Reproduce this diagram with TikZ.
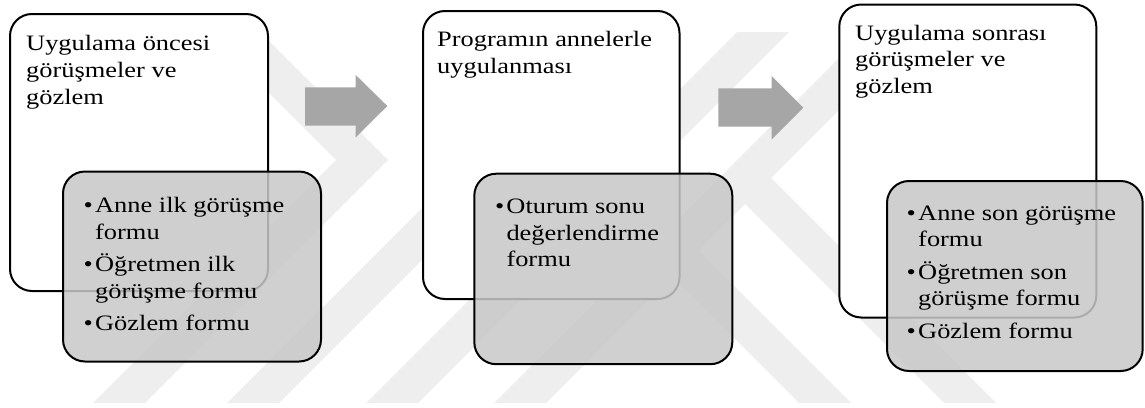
\documentclass[tikz,border=0pt]{standalone}
\usepackage{fontspec}
\setmainfont{Liberation Serif}[FakeStretch=1.2]
\definecolor{innergray}{RGB}{200,200,200}
\definecolor{arrowgray}{RGB}{166,166,166}
\definecolor{watermark}{RGB}{238,238,238}
\newcommand{\bul}{\makebox[11.5pt][l]{•}}
\begin{document}
\begin{tikzpicture}[x=1pt,y=-1pt,
  wband/.style={fill=watermark,draw=none},
  outerbox/.style={draw=black,line width=2pt,fill=white,rounded corners=22pt,anchor=north west,inner sep=0pt},
  innerbox/.style={draw=black,line width=2pt,fill=innergray,fill opacity=0.86,draw opacity=1,rounded corners=22pt,anchor=north west,inner sep=0pt},
  blockarrow/.style={fill=arrowgray,draw=none},
  txt/.style={inner sep=0pt,anchor=base west,font=\fontsize{22pt}{26.8pt}\selectfont}]
\useasboundingbox (0,0) rectangle (1145,407);

% faint background logo bands
\fill[wband] (93,403) -- (145,403) -- (388,160) -- (260,32) -- (208,32) -- (336,160) -- cycle;
\fill[wband] (227,403) -- (279,403) -- (650,32) -- (598,32) -- cycle;
\fill[wband] (366,403) -- (418,403) -- (789,32) -- (737,32) -- cycle;
\fill[wband] (799,403) -- (851,403) -- (634,186) -- (582,186) -- cycle;
\fill[wband] (494,403) -- (546,403) -- (917,32) -- (865,32) -- cycle;
\fill[wband] (944,403) -- (996,403) -- (771,178) -- (719,178) -- cycle;

% stage 1
\node[outerbox,minimum width=258pt,minimum height=277pt] (b1) at (9,13) {};
\node[innerbox,minimum width=258pt,minimum height=190pt] (g1) at (62,170.5) {};
% stage 2
\node[outerbox,minimum width=256.5pt,minimum height=288pt] (b2) at (422,10) {};
\node[innerbox,minimum width=258pt,minimum height=190.5pt] (g2) at (473.3,172.7) {};
% stage 3
\node[outerbox,minimum width=257pt,minimum height=313pt] (b3) at (838.3,3.5) {};
\node[innerbox,minimum width=255.7pt,minimum height=190pt] (g3) at (886,180) {};

% block arrows between the stages
\fill[blockarrow] (305,87.3) -- (355.7,87.3) -- (355.7,75) -- (387.3,106) -- (355.7,137.3) -- (355.7,125.7) -- (305,125.7) -- cycle;
\fill[blockarrow] (718.3,88.3) -- (771.7,88.3) -- (771.7,76) -- (803.3,107.7) -- (771.7,139.3) -- (771.7,126.7) -- (718.3,126.7) -- cycle;

% titles
\node[txt] (t1) at (26,50.7) {\begin{tabular}[t]{@{}l@{}}Uygulama öncesi\\görüşmeler ve\\gözlem\end{tabular}};
\node[txt] (t2) at (437,46.7) {\begin{tabular}[t]{@{}l@{}}Programın annelerle\\uygulanması\end{tabular}};
\node[txt] (t3) at (855,40) {\begin{tabular}[t]{@{}l@{}}Uygulama sonrası\\görüşmeler ve\\gözlem\end{tabular}};

% bullet lists
\node[txt] (l1) at (83.5,212.3) {\begin{tabular}[t]{@{}l@{}l@{}}\bul&Anne ilk görüşme\\&formu\\[5.5pt]\bul&Öğretmen ilk\\&görüşme formu\\[5.5pt]\bul&Gözlem formu\end{tabular}};
\node[txt] (l2) at (494.8,213.3) {\begin{tabular}[t]{@{}l@{}l@{}}\bul&Oturum sonu\\&değerlendirme\\&formu\end{tabular}};
\node[txt] (l3) at (906.5,220) {\begin{tabular}[t]{@{}l@{}l@{}}\bul&Anne son görüşme\\&formu\\[5.5pt]\bul&Öğretmen son\\&görüşme formu\\[5.5pt]\bul&Gözlem formu\end{tabular}};
\end{tikzpicture}
\end{document}
